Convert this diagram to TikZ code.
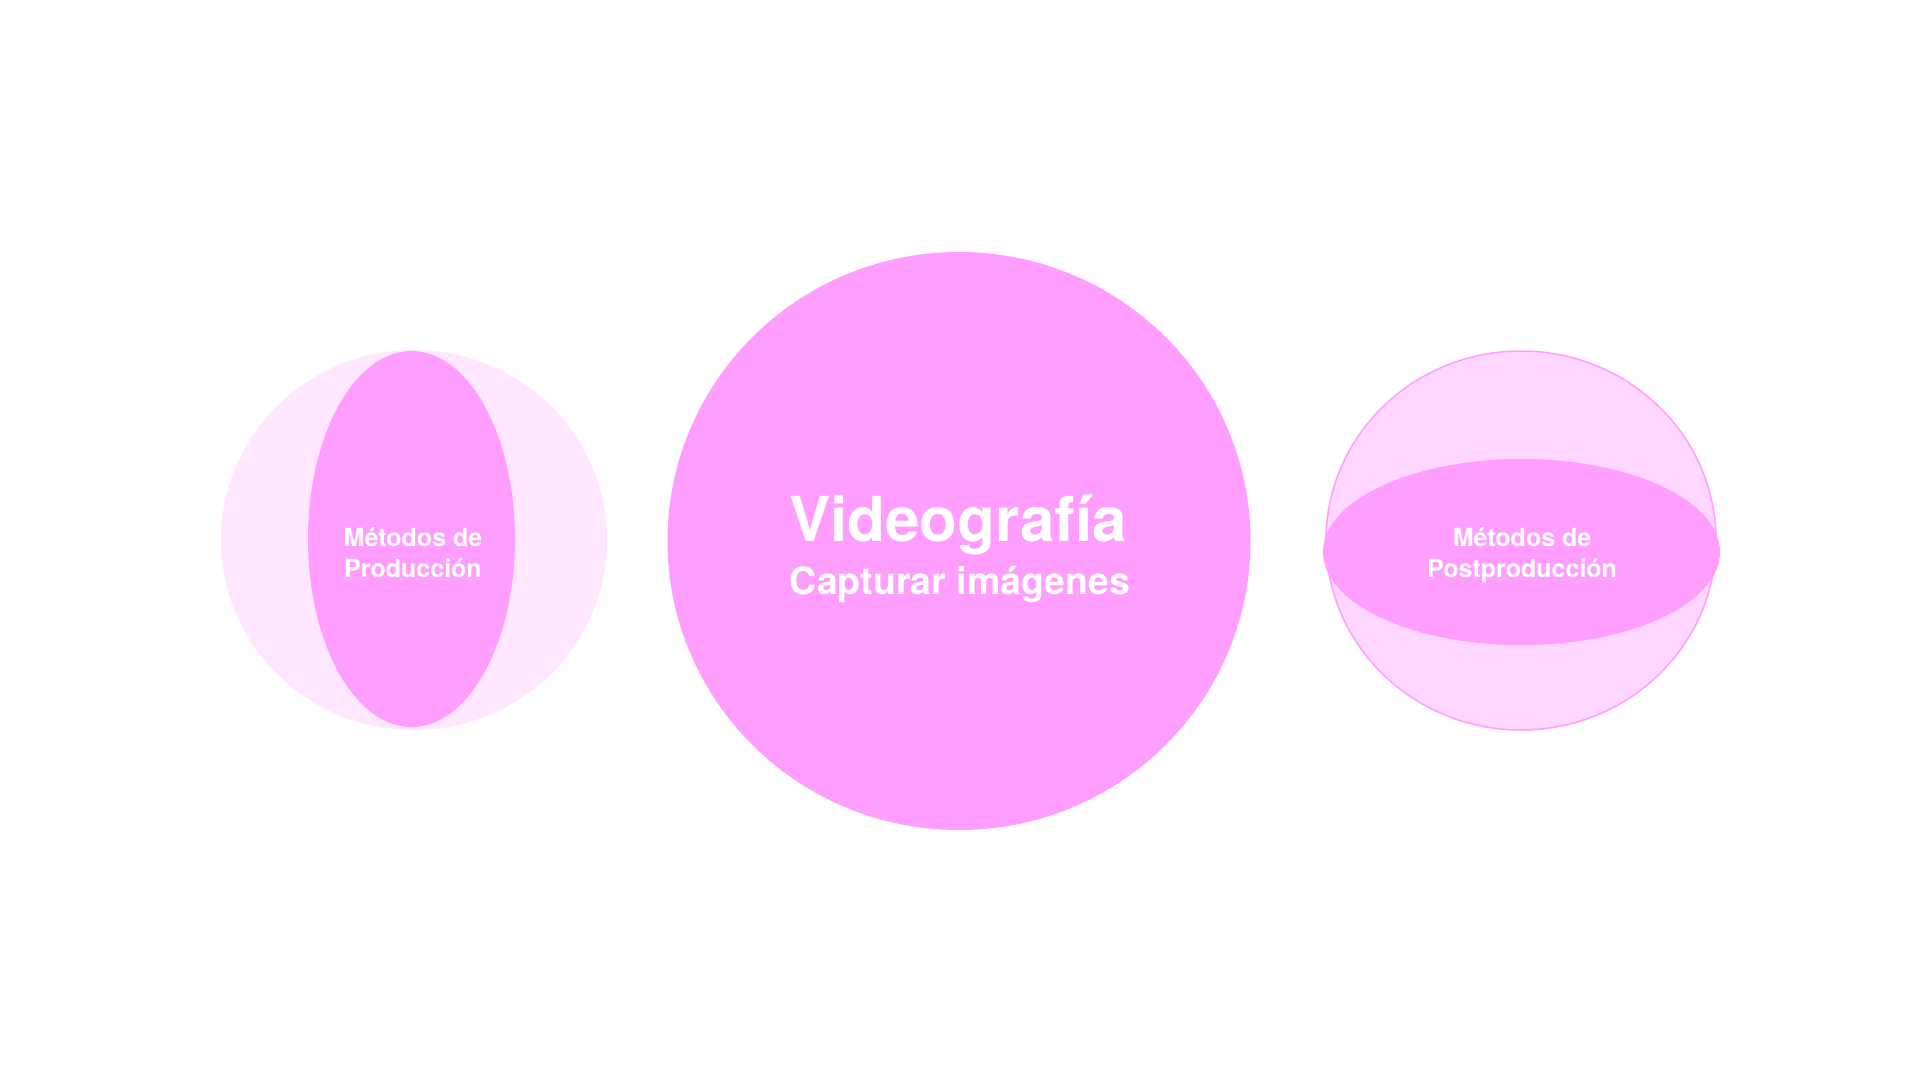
\documentclass[tikz,border=0pt]{standalone}
\usepackage{fontspec}
\setmainfont{TeX Gyre Heros}
\usetikzlibrary{shapes.geometric}
\definecolor{pinkmain}{HTML}{FF9EFF}
\definecolor{pinkpale}{HTML}{FFE8FF}
\definecolor{pinklight}{HTML}{FFD6FF}
\tikzset{
  blob/.style={shape=ellipse, inner sep=0pt, outer sep=0pt, draw=none},
  lbl/.style={anchor=base, text=white, font=\bfseries\fontsize{25}{31}\selectfont, inner sep=0pt},
}
\begin{document}
\begin{tikzpicture}[x=1pt,y=-1pt]
\useasboundingbox[fill=white] (0,0) rectangle (1920,1080);
% left
\node[blob, fill=pinkpale, minimum width=386pt, minimum height=380pt] (lout) at (414,540) {};
\node[blob, fill=pinkmain, minimum width=207pt, minimum height=376pt] (lin) at (411.5,539) {};
\node[lbl] (l1) at (413,546) {Métodos de};
\node[lbl] (l2) at (413,577) {Producción};
% center
\node[blob, fill=pinkmain, minimum width=583pt, minimum height=578pt] (cc) at (959,541) {};
\node[anchor=base, text=white, font=\bfseries\fontsize{62}{70}\selectfont, inner sep=0pt] (c1) at (958,541.7) {Videografía};
\node[anchor=base, text=white, font=\bfseries\fontsize{37.5}{42}\selectfont, inner sep=0pt] (c2) at (960,594) {Capturar imágenes};
% right
\node[blob, fill=pinklight, draw=pinkmain, line width=1.5pt, minimum width=390pt, minimum height=379pt] (rout) at (1521,540.5) {};
\node[blob, fill=pinkmain, minimum width=397pt, minimum height=186pt] (rin) at (1521.5,552) {};
\node[lbl] (r1) at (1522,546) {Métodos de};
\node[lbl] (r2) at (1522,577) {Postproducción};
\end{tikzpicture}
\end{document}
